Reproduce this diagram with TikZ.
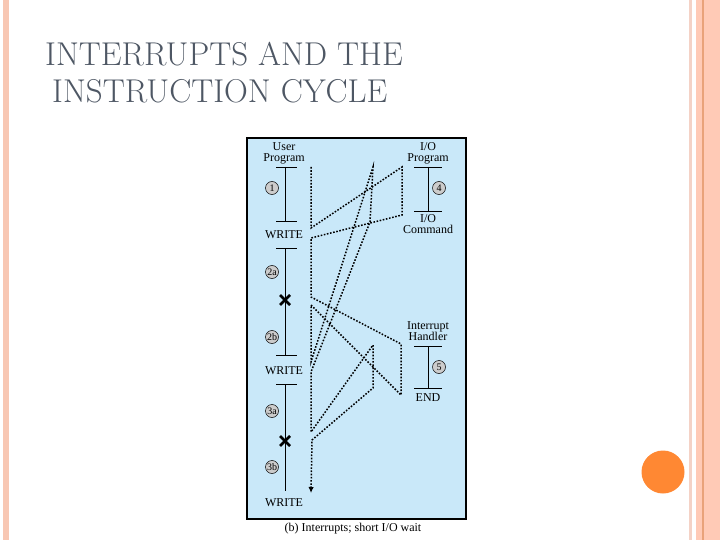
\documentclass[tikz,border=0pt]{standalone}
\usepackage{fontspec}
\newfontfamily\figfont{Liberation Serif}
\usetikzlibrary{arrows.meta}
\definecolor{titleGrey}{HTML}{4E5764}
\definecolor{stripeA}{HTML}{F8C7B3}
\definecolor{stripeB}{HTML}{F4D2C6}
\definecolor{stripeC}{HTML}{FFCAB6}
\definecolor{stripeLine}{HTML}{E9A27A}
\definecolor{panelBlue}{HTML}{C9E8F9}
\definecolor{dotOrange}{HTML}{FF8833}

\begin{document}
\begin{tikzpicture}[
  x=1pt, y=-1pt,
  lbl/.style={font=\figfont\fontsize{12}{11}\selectfont, align=center, inner sep=0pt},
  numcirc/.style={circle, draw, line width=0.5pt, fill=black!20, inner sep=0pt,
                  minimum size=13pt, font=\figfont\fontsize{10}{10}\selectfont},
  tl/.style={line width=0.8pt},
  flow/.style={line width=1.5pt, dash pattern=on 1.6pt off 1.6pt},
  xmark/.style={line width=2.8pt},
  ttl/.style={anchor=base west, inner sep=0pt, text=titleGrey, font=\fontsize{33}{35}\selectfont}
]
\useasboundingbox (0,0) rectangle (720,540);

% slide decoration
\fill[stripeA] (3,0) rectangle (9,540);
\fill[stripeB] (689,0) rectangle (692,540);
\fill[stripeC] (696,0) rectangle (720,540);
\fill[stripeLine] (702,0) rectangle (703.5,540);
\fill[dotOrange] (663,472) circle (21.5);

% title
\node[ttl] (t1) at (45,66) {INTERRUPTS AND THE};
\node[ttl] (t2) at (52,103) {INSTRUCTION CYCLE};

% panel
\draw[line width=2.4pt, fill=panelBlue] (247,138) rectangle (466,519);
\node[lbl] (cap) at (353,529) {(b) Interrupts; short I/O wait};

% user program
\node[lbl] (user) at (284,153.5) {User\\Program};
\draw[tl] (276,167) -- (297,167) (285,167) -- (285,221) (276,221) -- (297,221);
\node[lbl] (w1) at (284,234.5) {WRITE};
\draw[tl] (276,248) -- (297,248) (285,248) -- (285,355) (276,355) -- (297,355);
\node[lbl] (w2) at (284,370.5) {WRITE};
\draw[tl] (276,384) -- (297,384) (285,384) -- (285,491);
\node[lbl] (w3) at (284,502.5) {WRITE};
\node[numcirc] (c1) at (272,188) {1};
\node[numcirc] (c2a) at (272,272) {2a};
\node[numcirc] (c2b) at (272,337) {2b};
\node[numcirc] (c3a) at (272,411) {3a};
\node[numcirc] (c3b) at (272,467) {3b};
\draw[xmark] (280,295) -- (290,305) (280,305) -- (290,295);
\draw[xmark] (280,436) -- (290,446) (280,446) -- (290,436);

% I/O program
\node[lbl] (io) at (428,153.5) {I/O\\Program};
\draw[tl] (414,167) -- (442,167) (428,167) -- (428,211) (414,211) -- (442,211);
\node[lbl] (iocmd) at (428,224.5) {I/O\\Command};
\node[numcirc] (c4) at (439,188) {4};

% interrupt handler
\node[lbl] (ih) at (428,331.5) {Interrupt\\Handler};
\draw[tl] (414,346) -- (442,346) (428,346) -- (428,388) (414,388) -- (442,388);
\node[lbl] (end) at (428,397.5) {END};
\node[numcirc] (c5) at (439,367) {5};

% execution flow
\coordinate (f0) at (311,167);
\coordinate (f1) at (311,228);
\coordinate (f2) at (402,167);
\coordinate (f3) at (402,215);
\coordinate (f4) at (311,238);
\coordinate (f5) at (311,297);
\coordinate (f6) at (401,344);
\coordinate (f7) at (401,395);
\coordinate (f8) at (311,305);
\coordinate (f9) at (311,362);
\coordinate (f10) at (373,167);
\coordinate (f11) at (370,222);
\coordinate (f12) at (311,372);
\coordinate (f13) at (311,432);
\coordinate (f14) at (373,345);
\coordinate (f15) at (373,388);
\coordinate (f16) at (312,440);
\coordinate (f17) at (311,493);
\draw[flow, -{Latex[length=6pt, width=5.5pt]}]
  (f0) -- (f1) -- (f2) -- (f3) -- (f4) -- (f5) -- (f6) -- (f7) -- (f8) -- (f9)
  -- (f10) -- (f11) -- (f12) -- (f13) -- (f14) -- (f15) -- (f16) -- (f17);
\end{tikzpicture}
\end{document}
